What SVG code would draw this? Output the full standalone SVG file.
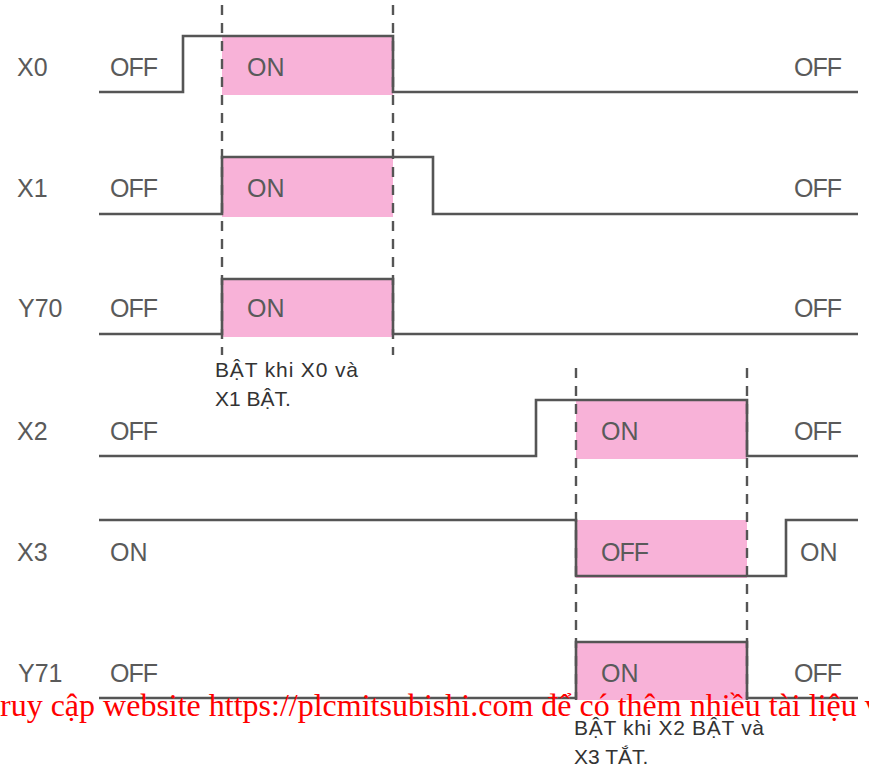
<svg xmlns="http://www.w3.org/2000/svg" width="869" height="770" viewBox="0 0 869 770">
<style>
.bg{fill:#ffffff}
.on{fill:#f8b2d8}
.wave{fill:none;stroke:#555555;stroke-width:2.6;stroke-linejoin:miter}
.guide{fill:none;stroke:#555555;stroke-width:2.4;stroke-dasharray:10 8}
.lbl{font-family:"Liberation Sans",Arial,sans-serif;font-size:25px;fill:#5a5a5a}
.note{font-family:"Liberation Sans",Arial,sans-serif;font-size:21px;fill:#333333}
.wm{font-family:"Liberation Serif","Times New Roman",serif;font-size:32px;fill:#ff0000}
</style>
<rect class="bg" x="0" y="0" width="869" height="770"/>

<g id="sig-X0">
<rect class="on" x="222" y="36" width="171" height="59"/>
<path class="wave" d="M99 92 H183 V36 H393 V92 H858"/>
<text class="lbl" x="17" y="76">X0</text>
<text class="lbl" x="110" y="76" textLength="48">OFF</text>
<text class="lbl" x="247" y="76">ON</text>
<text class="lbl" x="794" y="76" textLength="48">OFF</text>
</g>

<g id="sig-X1">
<rect class="on" x="222" y="157" width="171" height="60"/>
<path class="wave" d="M99 214 H222 V157 H433 V214 H858"/>
<text class="lbl" x="17" y="197">X1</text>
<text class="lbl" x="110" y="197" textLength="48">OFF</text>
<text class="lbl" x="247" y="197">ON</text>
<text class="lbl" x="794" y="197" textLength="48">OFF</text>
</g>

<g id="sig-Y70">
<rect class="on" x="222" y="279" width="171" height="58"/>
<path class="wave" d="M99 334 H222 V279 H393 V334 H858"/>
<text class="lbl" x="18" y="317">Y70</text>
<text class="lbl" x="110" y="317" textLength="48">OFF</text>
<text class="lbl" x="247" y="317">ON</text>
<text class="lbl" x="794" y="317" textLength="48">OFF</text>
</g>

<g id="sig-X2">
<rect class="on" x="576" y="400" width="171" height="59"/>
<path class="wave" d="M99 456 H536 V400 H747 V456 H858"/>
<text class="lbl" x="17" y="440">X2</text>
<text class="lbl" x="110" y="440" textLength="48">OFF</text>
<text class="lbl" x="601" y="440">ON</text>
<text class="lbl" x="794" y="440" textLength="48">OFF</text>
</g>

<g id="sig-X3">
<rect class="on" x="576" y="520" width="171" height="58"/>
<path class="wave" d="M99 520 H576 V576 H786 V520 H858"/>
<text class="lbl" x="17" y="561">X3</text>
<text class="lbl" x="110" y="561">ON</text>
<text class="lbl" x="601" y="561" textLength="48">OFF</text>
<text class="lbl" x="800" y="561">ON</text>
</g>

<g id="sig-Y71">
<rect class="on" x="576" y="642" width="171" height="58"/>
<path class="wave" d="M99 698 H576 V642 H747 V698 H858"/>
<text class="lbl" x="18" y="682">Y71</text>
<text class="lbl" x="110" y="682" textLength="48">OFF</text>
<text class="lbl" x="601" y="682">ON</text>
<text class="lbl" x="794" y="682" textLength="48">OFF</text>
</g>

<g id="connectors">
<line class="guide" x1="222" y1="5" x2="222" y2="355"/>
<line class="guide" x1="393" y1="5" x2="393" y2="355"/>
<line class="guide" x1="576" y1="368" x2="576" y2="700"/>
<line class="guide" x1="747" y1="368" x2="747" y2="700"/>
</g>

<g id="note-Y70">
<text class="note" x="215" y="377" textLength="143">BẬT khi X0 và</text>
<text class="note" x="215" y="406">X1 BẬT.</text>
</g>

<g id="note-Y71">
<text class="note" x="574" y="735" textLength="190">BẬT khi X2 BẬT và</text>
<text class="note" x="574" y="764">X3 TẮT.</text>
</g>

<g id="watermark">
<text class="wm" x="0" y="716">ruy cập website https://plcmitsubishi.com để có thêm nhiều tài liệu v</text>
</g>
</svg>
